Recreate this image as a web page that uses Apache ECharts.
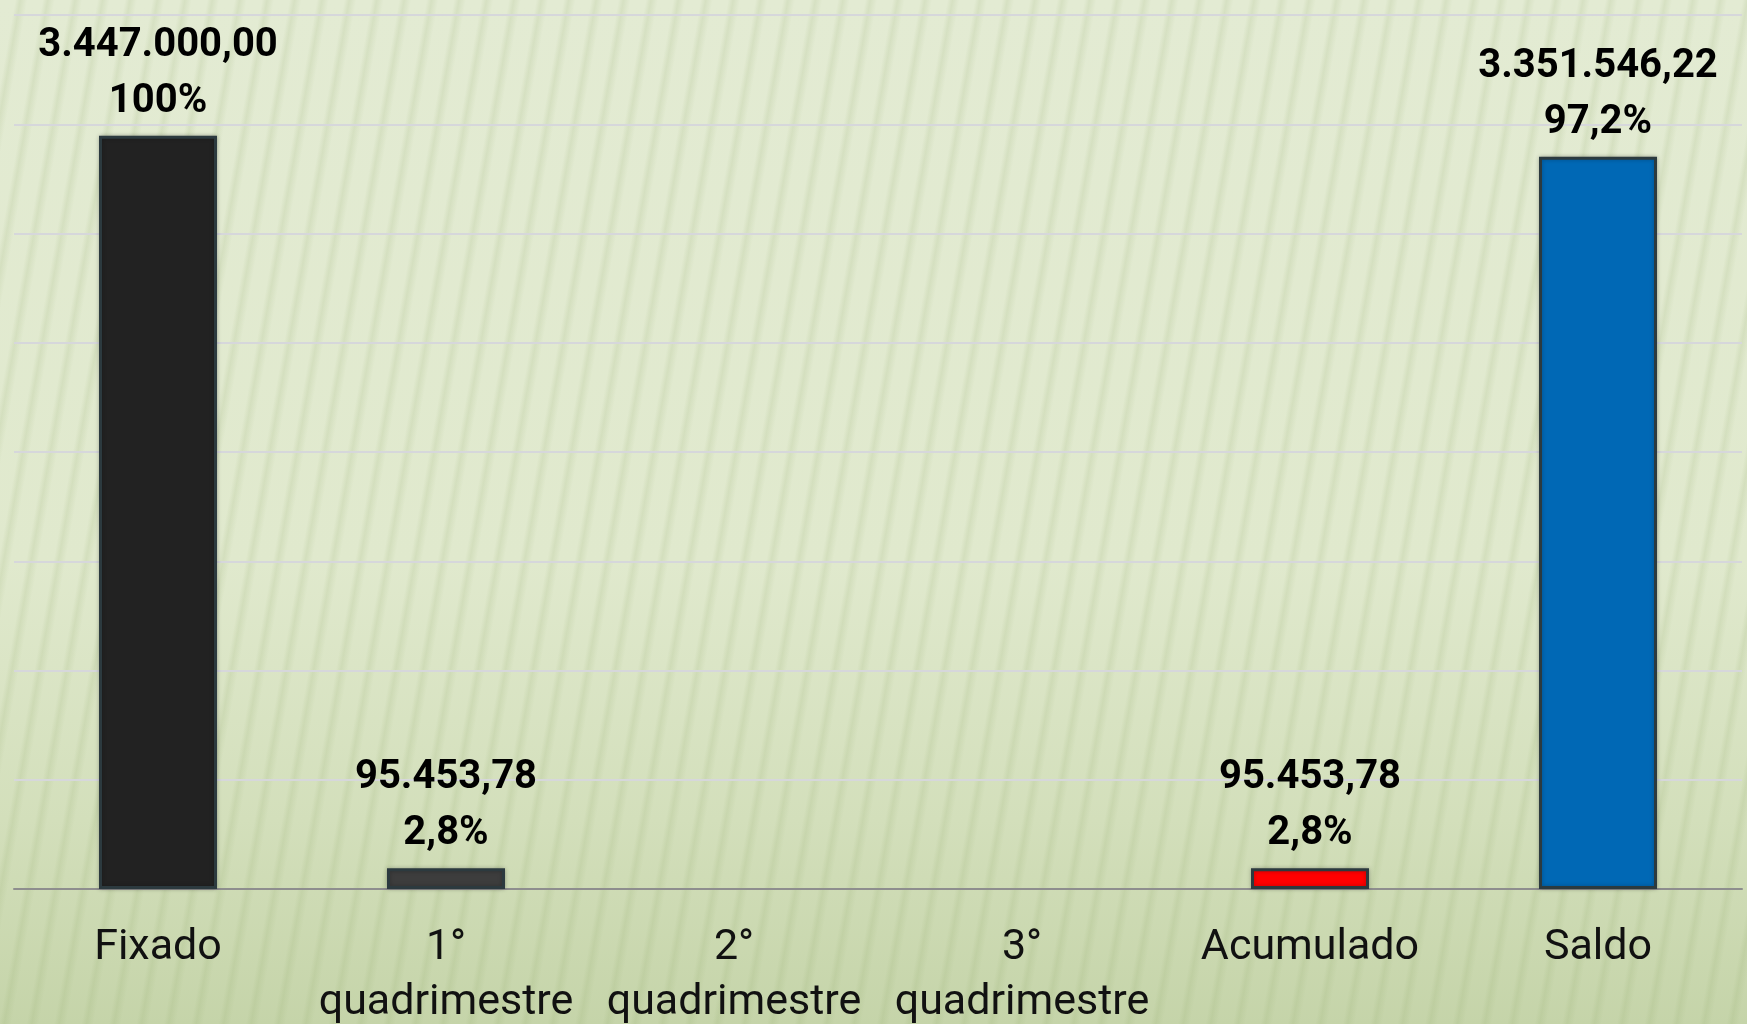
<!DOCTYPE html>
<html>
<head>
<meta charset="utf-8">
<script src="https://cdn.jsdelivr.net/npm/echarts@6/dist/echarts.min.js"></script>
<style>
  html, body { margin: 0; padding: 0; }
  #chart {
    width: 1747px;
    height: 1024px;
    background:
      repeating-linear-gradient(100deg, rgba(140,165,100,0) 0px, rgba(140,165,100,0) 15px, rgba(140,165,100,0.15) 20px, rgba(140,165,100,0) 27px),
      linear-gradient(to bottom, #e3ebd3 0%, #e0e9cd 55%, #d3dfbb 80%, #c5d4a9 100%);
  }
</style>
</head>
<body>
<div id="chart"></div>
<script>
const categories = ['Fixado', '1°\nquadrimestre', '2°\nquadrimestre', '3°\nquadrimestre', 'Acumulado', 'Saldo'];
const values = [3447000.00, 95453.78, null, null, 95453.78, 3351546.22];
const percents = ['100%', '2,8%', '', '', '2,8%', '97,2%'];
const barColors = ['#222222', '#3d3d3d', '#3d3d3d', '#3d3d3d', '#ff0000', '#0068b5'];

const FONT = 'Roboto, "DejaVu Sans Condensed", sans-serif';

const formatBR = (v) =>
  v.toLocaleString('pt-BR', { minimumFractionDigits: 2, maximumFractionDigits: 2 });

const chart = echarts.init(document.getElementById('chart'));

const option = {
  animation: false,
  grid: { left: 14, right: 5, top: 15, bottom: 135, containLabel: false, outerBoundsMode: 'none' },
  xAxis: {
    type: 'category',
    data: categories,
    axisLine: { lineStyle: { color: '#8e8e8e', width: 2 } },
    axisTick: { length: 13, lineStyle: { color: '#8e8e8e', width: 2 } },
    axisLabel: {
      margin: 32,
      color: '#111111',
      fontFamily: FONT,
      fontSize: 43,
      lineHeight: 55,
      interval: 0,
    },
  },
  yAxis: {
    type: 'value',
    min: 0,
    max: 4000000,
    interval: 500000,
    axisLabel: { show: false },
    axisLine: { show: false },
    axisTick: { show: false },
    splitLine: { lineStyle: { color: '#d6d7db', width: 2 } },
  },
  series: [
    {
      type: 'bar',
      barWidth: 118,
      data: values.map((v, i) => ({
        value: v,
        itemStyle: { color: barColors[i] },
      })),
      itemStyle: {
        borderColor: '#2c3a3f',
        borderWidth: 3,
        shadowColor: 'rgba(0,0,0,0.25)',
        shadowBlur: 4,
      },
      label: {
        show: true,
        position: 'top',
        distance: 6,
        color: '#000000',
        fontFamily: FONT,
        fontWeight: 'bold',
        fontSize: 40,
        lineHeight: 56,
        formatter: (p) => (p.value == null ? '' : formatBR(p.value) + '\n' + percents[p.dataIndex]),
      },
    },
  ],
};

chart.setOption(option);
</script>
</body>
</html>
